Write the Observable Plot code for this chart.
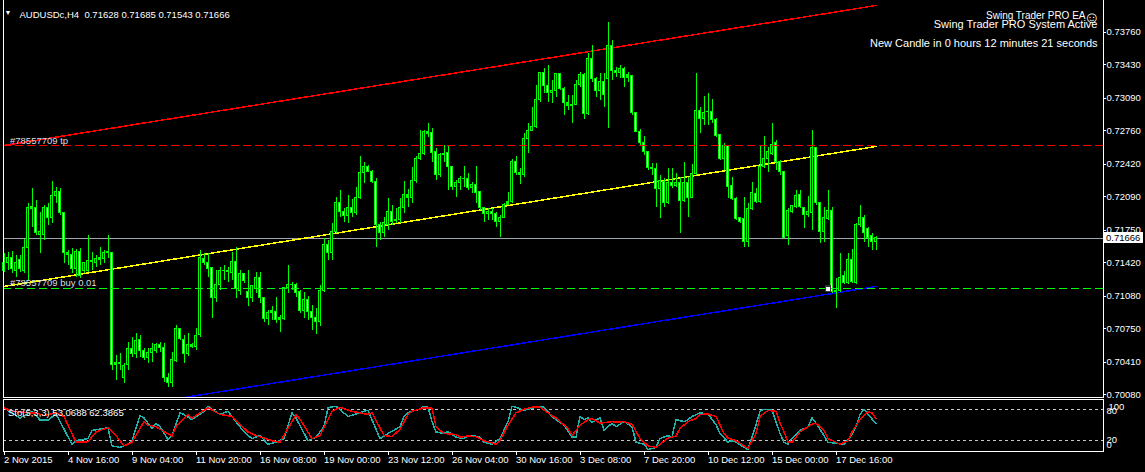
<!DOCTYPE html>
<html><head><meta charset="utf-8">
<script src="https://cdn.jsdelivr.net/npm/d3@7"></script>
<script src="https://cdn.jsdelivr.net/npm/@observablehq/plot@0.6"></script>
<style>
html,body{margin:0;padding:0;background:#000;}
#wrap{position:relative;width:1145px;height:472px;background:#000;overflow:hidden;}
#wrap svg{position:absolute;left:0;shape-rendering:crispEdges;overflow:visible;}
</style></head><body><div id="wrap"></div>
<script>
const symbolName = "AUDUSDc,H4";
const open = [
.71341,.71413,.71463,.71341,.71443,.71341,.71565,.71961,.71971,.71697,
.71697,.71971,.71869,.72093,.72133,.71920,.71514,.71494,.71352,.71534,
.71341,.71341,.71423,.71413,.71443,.71453,.71524,.71514,.70377,.70398,
.70245,.70377,.70540,.70489,.70631,.70529,.70458,.70499,.70519,.70580,
.70550,.70255,.70195,.70418,.70743,.70631,.70489,.70580,.70560,.70682,
.71453,.71413,.71362,.71067,.71189,.71331,.71341,.71311,.71423,.71138,
.71301,.71118,.71067,.71149,.71260,.71057,.70844,.70905,.70915,.70834,
.70844,.71159,.71199,.71199,.71118,.70935,.71037,.70915,.70854,.70814,
.71138,.71605,.71514,.71727,.72022,.71930,.71890,.71971,.71920,.72082,
.72326,.72387,.72346,.72235,.71798,.71717,.71798,.71930,.71839,.71849,
.71971,.72103,.72082,.72245,.72468,.72519,.72742,.72732,.72539,.72306,
.72509,.72529,.72387,.72184,.72225,.72265,.72275,.72174,.72214,.72133,
.71971,.71910,.71940,.71910,.71829,.71879,.72011,.72032,.72438,.72326,
.72306,.72671,.72762,.72793,.73067,.73341,.73209,.73138,.73168,.73331,
.73179,.73037,.73016,.73026,.73229,.73321,.72925,.73483,.73290,.73168,
.73250,.73290,.73615,.73371,.73341,.73382,.73300,.73311,.72935,.72752,
.72631,.72539,.72377,.72367,.72164,.72235,.72022,.72225,.72194,.72225,
.72042,.72225,.72082,.72316,.72965,.72884,.72955,.72945,.72864,.72712,
.72468,.72600,.72194,.72072,.71869,.71859,.71626,.71961,.72113,.72032,
.72387,.72468,.72519,.72631,.72438,.72336,.71687,.71940,.71981,.72103,
.71971,.71900,.71920,.72580,.72022,.71727,.71859,.71950,.71118,.71128,
.71281,.71210,.71443,.71210,.71798,.71869,.71758,.71687,.71628];
const high = [
.71514,.71524,.71534,.71494,.71494,.71656,.72022,.72174,.72052,.71930,
.72001,.72022,.72245,.72184,.72174,.71930,.71544,.71565,.71555,.71565,
.71423,.71697,.71524,.71494,.71575,.71544,.71697,.71524,.70479,.70499,
.70398,.70611,.70661,.70702,.70682,.70550,.70550,.70601,.70601,.70611,
.70601,.70296,.70509,.70783,.70753,.70682,.70702,.70601,.70753,.71544,
.71514,.71514,.71372,.71341,.71372,.71392,.71372,.71524,.71575,.71341,
.71311,.71341,.71189,.71321,.71321,.71067,.70935,.70976,.71067,.70885,
.71169,.71392,.71220,.71210,.71138,.71118,.71078,.70986,.70956,.71189,
.71666,.71646,.71819,.72082,.72153,.71971,.72103,.72062,.72184,.72499,
.72438,.72407,.72356,.72275,.71829,.71879,.72072,.72001,.71971,.72072,
.72245,.72164,.72387,.72499,.72762,.72762,.72834,.72783,.72580,.72529,
.72610,.72610,.72397,.72255,.72296,.72397,.72326,.72235,.72397,.72143,
.71981,.71971,.71971,.71930,.71900,.72022,.72133,.72468,.72499,.72377,
.72732,.72834,.72996,.73219,.73351,.73392,.73422,.73270,.73341,.73341,
.73199,.73118,.73118,.73270,.73351,.73341,.73544,.73625,.73300,.73341,
.73341,.73859,.73676,.73402,.73422,.73402,.73351,.73321,.72945,.72773,
.72702,.72549,.72428,.72428,.72306,.72275,.72377,.72377,.72326,.72285,
.72438,.72285,.72417,.73341,.72996,.73108,.73138,.73077,.72884,.72722,
.72631,.72610,.72285,.72082,.71879,.72082,.72022,.72235,.72174,.72610,
.72702,.72590,.72834,.72661,.72458,.72346,.71971,.72001,.72153,.72153,
.71981,.72093,.72762,.72590,.72032,.71981,.72153,.71981,.71260,.71514,
.71331,.71514,.71555,.71819,.72001,.71900,.71778,.71717,.71685];
const low = [
.71321,.71341,.71311,.71270,.71321,.71311,.71240,.71778,.71697,.71514,
.71646,.71798,.71819,.72022,.71900,.71413,.71392,.71311,.71270,.71260,
.71311,.71321,.71341,.71372,.71392,.71413,.71463,.70326,.70225,.70326,
.70195,.70326,.70458,.70448,.70458,.70428,.70398,.70408,.70499,.70509,
.70205,.70154,.70154,.70408,.70631,.70398,.70469,.70550,.70529,.70661,
.71392,.71270,.70854,.71017,.71138,.71240,.71220,.71240,.71057,.71088,
.71210,.70976,.71017,.71108,.71007,.70814,.70783,.70834,.70804,.70712,
.70834,.71108,.71138,.71067,.70905,.70854,.70834,.70732,.70692,.70773,
.71118,.71443,.71443,.71717,.71879,.71829,.71819,.71879,.71900,.72062,
.72225,.72336,.72225,.71575,.71646,.71676,.71747,.71798,.71819,.71819,
.71920,.71981,.72022,.72225,.72458,.72509,.72691,.72438,.72255,.72285,
.72438,.72153,.72153,.72082,.72153,.72184,.72153,.72123,.72022,.71950,
.71829,.71849,.71849,.71778,.71676,.71869,.72001,.72022,.72306,.72214,
.72285,.72529,.72752,.72783,.73047,.73138,.73047,.73037,.73097,.73168,
.72915,.72965,.72834,.73016,.73199,.72874,.72915,.73250,.73097,.73067,
.72996,.72783,.73270,.73300,.73290,.73199,.73250,.72915,.72742,.72610,
.72509,.72356,.72306,.71981,.71869,.71981,.72011,.72174,.72184,.71717,
.72032,.71879,.72072,.72306,.72732,.72813,.72813,.72834,.72691,.72458,
.72356,.72072,.72052,.71849,.71819,.71575,.71575,.71950,.72022,.72022,
.72377,.72336,.72509,.72356,.72306,.71666,.71595,.71920,.71971,.71971,
.71768,.71879,.71747,.72001,.71616,.71626,.71849,.71108,.70956,.71118,
.71199,.71199,.71210,.71199,.71778,.71626,.71575,.71544,.71543];
const close = [
.71413,.71463,.71352,.71413,.71352,.71565,.71971,.71981,.71717,.71737,
.71971,.71869,.72093,.72133,.71920,.71514,.71494,.71352,.71534,.71281,
.71413,.71433,.71433,.71453,.71463,.71514,.71514,.70377,.70398,.70387,
.70367,.70540,.70489,.70621,.70529,.70458,.70499,.70540,.70580,.70550,
.70255,.70195,.70428,.70743,.70641,.70489,.70580,.70560,.70672,.71463,
.71413,.71352,.71067,.71199,.71331,.71341,.71321,.71423,.71149,.71301,
.71230,.71067,.71179,.71270,.71067,.70844,.70905,.70925,.70834,.70854,
.71159,.71199,.71189,.71108,.70935,.71037,.70915,.70854,.70814,.71138,
.71605,.71514,.71727,.72022,.71930,.71890,.71971,.71920,.72082,.72326,
.72387,.72346,.72235,.71798,.71717,.71819,.71930,.71829,.71849,.71971,
.72103,.72082,.72245,.72468,.72519,.72742,.72722,.72529,.72306,.72509,
.72519,.72387,.72184,.72225,.72265,.72275,.72174,.72214,.72123,.71971,
.71910,.71940,.71910,.71829,.71879,.72011,.72032,.72438,.72326,.72306,
.72671,.72762,.72793,.73067,.73341,.73219,.73138,.73168,.73331,.73179,
.73037,.73016,.73026,.73229,.73321,.72925,.73483,.73290,.73168,.73250,
.73118,.73615,.73371,.73341,.73382,.73300,.73321,.72935,.72752,.72631,
.72539,.72377,.72367,.72164,.72245,.72022,.72225,.72194,.72225,.72042,
.72225,.72082,.72316,.72965,.72884,.72935,.72945,.72864,.72702,.72468,
.72600,.72184,.72072,.71859,.71829,.71626,.71961,.72123,.72032,.72387,
.72478,.72539,.72620,.72438,.72336,.71676,.71950,.71991,.72093,.71981,
.71900,.71930,.72580,.72022,.71727,.71869,.71950,.71118,.71138,.71270,
.71210,.71443,.71220,.71798,.71879,.71717,.71676,.71626,.71666];

const xTickBars = [0,16,32,48,64,80,96,112,128,144,160,176,192,208];
const xTickLabels = ["2 Nov 2015","4 Nov 16:00","9 Nov 04:00","11 Nov 20:00","16 Nov 08:00","19 Nov 00:00","23 Nov 12:00","26 Nov 04:00","30 Nov 16:00","3 Dec 08:00","7 Dec 20:00","10 Dec 12:00","15 Dec 00:00","17 Dec 16:00"];
const priceTicks = [0.73760,0.73430,0.73090,0.72760,0.72420,0.72090,0.71750,0.71420,0.71080,0.70750,0.70410,0.70080];

const tpPrice = 0.72610, buyPrice = 0.71156;
const tpLabel = "#78557709 tp", buyLabel = "#78557709 buy 0.01";
const redLine = [[0,0.72610],[218,0.74031]];
const yellowLine = [[0,0.71179],[218,0.72600]];
const blueLine = [[0,0.69758],[218,0.71179]];
const buyArrow = [[206,0.71156]];

const eaTitle = "Swing Trader PRO EA", eaStatus = "Swing Trader PRO System Active",
      eaTimer = "New Candle in 0 hours 12 minutes 21 seconds";

const stoName = "Sto(5,3,3)";
const stoK = [[0,84],[4,64],[7,77],[9,60],[11,60],[13,72],[17,13],[18,20],[21,24],[22,40],[26,45],[27,10],[29,7],[31,13],[32,20],[34,69],[35,64],[37,44],[38,54],[39,47],[41,22],[42,30],[44,74],[45,71],[47,61],[50,77],[51,87],[52,81],[54,71],[56,77],[60,37],[62,24],[64,30],[66,13],[68,17],[70,24],[72,74],[73,64],[76,20],[78,27],[80,47],[81,84],[83,87],[86,67],[90,77],[91,79],[94,24],[96,34],[99,47],[100,67],[101,74],[102,77],[104,81],[105,87],[106,85],[107,57],[108,37],[110,34],[111,38],[112,32],[113,27],[115,24],[116,30],[117,30],[119,27],[120,17],[122,13],[124,24],[126,57],[127,87],[128,85],[130,79],[132,83],[134,87],[135,85],[137,67],[138,61],[140,50],[142,27],[143,27],[144,67],[145,61],[146,64],[147,56],[149,64],[150,40],[152,54],[153,47],[155,57],[157,47],[158,17],[160,13],[161,3],[163,7],[164,24],[166,30],[167,27],[168,61],[170,57],[171,61],[172,67],[174,74],[176,72],[178,51],[179,34],[181,17],[182,20],[183,17],[185,7],[186,3],[188,51],[189,77],[190,81],[192,79],[193,57],[194,34],[195,17],[196,13],[197,25],[199,40],[201,47],[202,64],[203,54],[205,30],[206,17],[208,15],[210,13],[212,32],[213,47],[214,71],[215,81],[216,71],[218,53.0688]];
const stoD = [[0,84],[2,77],[7,74],[8,74],[10,69],[13,74],[15,67],[18,17],[21,18],[23,37],[26,45],[28,30],[30,10],[32,17],[35,57],[36,50],[38,47],[42,29],[43,47],[46,71],[47,64],[51,84],[54,71],[57,67],[61,37],[63,30],[67,20],[69,17],[71,44],[73,70],[74,62],[77,24],[79,30],[82,77],[84,85],[87,77],[91,71],[92,74],[95,30],[97,28],[99,42],[101,71],[102,77],[105,84],[107,83],[108,47],[110,34],[113,32],[114,27],[116,29],[118,28],[120,20],[123,13],[124,20],[126,50],[128,74],[130,81],[132,85],[134,85],[136,74],[138,64],[141,44],[142,30],[144,50],[146,61],[147,63],[149,54],[152,57],[153,56],[155,57],[157,52],[159,24],[161,10],[163,7],[164,13],[166,25],[168,29],[169,44],[171,57],[173,63],[174,71],[176,72],[178,67],[180,34],[181,25],[183,20],[185,10],[186,5],[188,34],[189,67],[191,79],[193,77],[194,54],[195,37],[196,17],[197,17],[199,37],[201,47],[202,52],[203,54],[205,40],[206,24],[208,17],[209,13],[211,20],[212,37],[214,61],[216,76],[217,74],[218,62.3865]];
const stoLevels = [100,80,20,0];

const FONT = "'Liberation Sans', Arial, sans-serif";
const LIME = "#00ff00";
const N = close.length, last = N - 1;
const idx = d3.range(N);
const xDomain = [-0.125, 274.875];

const header = `${symbolName}\u00a0\u00a0${open[last].toFixed(5)} ${high[last].toFixed(5)} ${low[last].toFixed(5)} ${close[last].toFixed(5)}`;

// main panel: svg placed 1px above the page so the frame's top edge falls outside
const main = Plot.plot({
  width:1145, height:399, marginLeft:3, marginRight:42, marginTop:0, marginBottom:1,
  style: {background:"black", color:"white", fontFamily:FONT, fontSize:"9.5px", overflow:"visible"},
  x:{domain:xDomain, axis:null},
  y:{domain:[0.70052, 0.74092], axis:null},
  marks:[
    Plot.ruleY([close[last]], {stroke:"#9ea4ac"}),
    Plot.line(redLine, {x:"0", y:"1", stroke:"#ff0000", clip:true}),
    Plot.line(yellowLine, {x:"0", y:"1", stroke:"#ffff00", clip:true}),
    Plot.line(blueLine, {x:"0", y:"1", stroke:"#0000ff", clip:true}),
    Plot.ruleX(idx, {x:i=>i, y1:i=>low[i], y2:i=>high[i], stroke:LIME}),
    Plot.rect(idx, {x1:i=>i-0.375, x2:i=>i+0.375, y1:i=>open[i], y2:i=>close[i], fill:LIME, insetTop:-0.5, insetBottom:-0.5}),
    Plot.rect(idx.filter(i=>Math.abs(open[i]-close[i])>0.00025), {x1:i=>i-0.125, x2:i=>i+0.125, y1:i=>open[i], y2:i=>close[i], fill:i=>close[i]>=open[i]?"#000":"#fff", insetTop:0.5, insetBottom:0.5}),
    Plot.ruleY([tpPrice], {stroke:"#ff0000", strokeDasharray:"8,4"}),
    Plot.ruleY([buyPrice], {stroke:LIME, strokeDasharray:"8,4"}),
    Plot.text([tpLabel], {text:d=>d, y:()=>tpPrice, frameAnchor:"left", dx:6.5, dy:-5, textAnchor:"start", fill:"#d8dce0"}),
    Plot.text([buyLabel], {text:d=>d, y:()=>buyPrice, frameAnchor:"left", dx:6.5, dy:-5.5, textAnchor:"start", fill:"#d8dce0"}),
    Plot.dot(buyArrow, {x:"0", y:"1", r:3, symbol:"square", fill:"white", stroke:"#333"}),
    Plot.text(["\u25BC"], {text:d=>d, frameAnchor:"top-left", dx:4.5, dy:10.5, textAnchor:"middle", fontSize:7, fill:"white"}),
    Plot.text([header], {text:d=>d, frameAnchor:"top-left", dx:16, dy:12, textAnchor:"start", fill:"white"}),
    Plot.text([eaTitle], {text:d=>d, frameAnchor:"top-right", dx:-18, dy:12.5, textAnchor:"end", fontSize:10, fill:"white"}),
    Plot.text(["\u263A"], {text:d=>d, frameAnchor:"top-right", dx:-11.5, dy:12, textAnchor:"middle", fontSize:16, fill:"white"}),
    Plot.text([eaStatus], {text:d=>d, frameAnchor:"top-right", dx:-6, dy:21, textAnchor:"end", fontSize:11, fill:"white"}),
    Plot.text([eaTimer], {text:d=>d, frameAnchor:"top-right", dx:-6, dy:39.5, textAnchor:"end", fontSize:11, fill:"white"}),
    Plot.axisY(priceTicks, {anchor:"right", tickFormat:d=>d.toFixed(5), tickSize:2, tickPadding:1, label:null}),
    Plot.frame({stroke:"white"})
  ]
});
main.style.top = "-1px";
{
  const ys = main.scale("y");
  const yp = ys.apply(close[last]);
  const g = d3.select(main).append("g");
  g.append("rect").attr("x",1103).attr("y",Math.round(yp)-6).attr("width",40).attr("height",11).attr("fill","white");
  g.append("text").attr("x",1106).attr("y",yp).attr("dy","0.35em").attr("fill","black")
    .attr("text-anchor","start").attr("font-family",FONT).attr("font-size",9.5).text(close[last].toFixed(5));
}

const stoKLast = stoK[stoK.length-1][1], stoDLast = stoD[stoD.length-1][1];
const sto = Plot.plot({
  width:1145, height:75, marginLeft:3, marginRight:42, marginTop:2, marginBottom:21.5,
  style: {background:"transparent", color:"white", fontFamily:FONT, fontSize:"9.5px", overflow:"visible"},
  x:{domain:xDomain, axis:null},
  y:{domain:[0,100], axis:null},
  marks:[
    Plot.ruleY([80,20], {stroke:"#c8c8c8", strokeDasharray:"3,3"}),
    Plot.line(stoK, {x:"0", y:"1", stroke:"#20b2aa"}),
    Plot.line(stoD, {x:"0", y:"1", stroke:"#ff0000"}),
    Plot.text([`${stoName} ${stoKLast.toFixed(4)} ${stoDLast.toFixed(4)}`], {text:d=>d, frameAnchor:"top-left", dx:4.5, dy:10, textAnchor:"start", fill:"white"}),
    Plot.frame({stroke:"white"}),
    Plot.axisX(xTickBars, {tickFormat:d=>xTickLabels[xTickBars.indexOf(d)], tickSize:4, tickPadding:1.5, textAnchor:"start", dx:0, label:null}),
    Plot.text([stoLevels[0]], {y:d=>d, text:d=>String(d), frameAnchor:"right", dx:5, dy:7, textAnchor:"start", fill:"white"}),
    Plot.text([stoLevels[1]], {y:d=>d, text:d=>String(d), frameAnchor:"right", dx:3, dy:1.5, textAnchor:"start", fill:"white"}),
    Plot.text([stoLevels[2]], {y:d=>d, text:d=>String(d), frameAnchor:"right", dx:3, dy:-0.5, textAnchor:"start", fill:"white"}),
    Plot.text([stoLevels[3]], {y:d=>d, text:d=>String(d), frameAnchor:"right", dx:3, dy:-6, textAnchor:"start", fill:"white"})
  ]
});
sto.style.top = "397px";

const wrap = document.getElementById("wrap");
wrap.appendChild(main);
wrap.appendChild(sto);
</script>
</body></html>
